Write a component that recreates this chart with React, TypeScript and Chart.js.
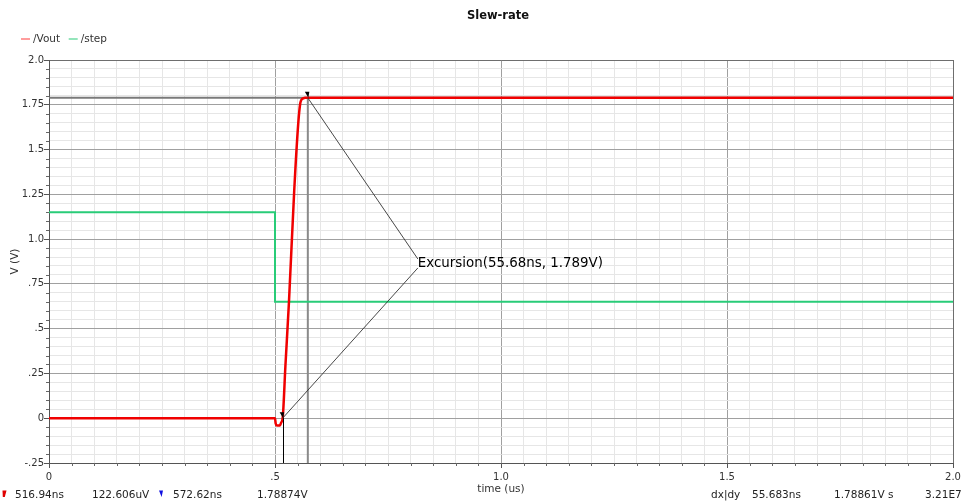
import { useEffect, useRef } from 'react';
import { Chart, registerables } from 'chart.js';

Chart.register(...registerables);

// Transient response: output voltage and the input step (time in us, volts)
const voutTime = [0, 0.5, 0.5015, 0.504, 0.511, 0.5135, 0.516937, 0.523, 0.5307, 0.5425, 0.5514, 0.5558, 0.5585, 0.5625, 0.5665, 2.0];
const voutVolts = [0, 0, -0.03, -0.04, -0.04, -0.025, 0.000122606, 0.29, 0.64, 1.27, 1.645, 1.757, 1.778, 1.786, 1.789, 1.789];

const stepTime = [0, 0.5, 0.5, 2.0];
const stepVolts = [1.15, 1.15, 0.65, 0.65];

const seriesNames = ['/Vout', '/step'];

// Axis ticks
const xMajorTicks = [0, 0.5, 1, 1.5, 2];
const xTickLabels = ['0', '.5', '1.0', '1.5', '2.0'];
const yMajorTicks = [-0.25, 0, 0.25, 0.5, 0.75, 1, 1.25, 1.5, 1.75, 2];
const yTickLabels = ['-.25', '0', '.25', '.5', '.75', '1.0', '1.25', '1.5', '1.75', '2.0'];

// Cursor markers A and B (time in us, volts)
const markerA = { t: 0.516937, v: 0.000122606 };
const markerB = { t: 0.57262, v: 1.78874 };
// Where the excursion label sits, in data units
const excursionLabelAt = { t: 0.816, v: 0.864 };

const FONT = '"DejaVu Sans", sans-serif';

const near = (a: number, b: number) => Math.abs(a - b) < 1e-6;
const isMultiple = (v: number, step: number) => Math.abs(v / step - Math.round(v / step)) < 1e-6;

const labelFor = (v: number, ticks: number[], labels: string[]) => {
  const i = ticks.findIndex((t) => near(t, v));
  return i >= 0 ? labels[i] : '';
};

const fmtExp = (n: number) => {
  const e = Math.floor(Math.log10(n));
  return (n / Math.pow(10, e)).toFixed(2) + 'E' + e;
};

const overlayPlugin = {
  id: 'waveOverlay',
  beforeDatasetsDraw(chart: any) {
    const { ctx, chartArea: a, scales } = chart;
    const x = scales.x;
    const y = scales.y;
    ctx.save();
    // short minor tick marks
    ctx.strokeStyle = '#666';
    ctx.lineWidth = 1;
    ctx.beginPath();
    x.ticks.forEach((t: any) => {
      if (isMultiple(t.value, 0.5)) return;
      const px = Math.round(x.getPixelForValue(t.value)) + 0.5;
      ctx.moveTo(px, a.bottom);
      ctx.lineTo(px, a.bottom + 3);
    });
    y.ticks.forEach((t: any) => {
      if (isMultiple(t.value, 0.25)) return;
      const py = Math.round(y.getPixelForValue(t.value)) + 0.5;
      ctx.moveTo(a.left - 3, py);
      ctx.lineTo(a.left, py);
    });
    ctx.stroke();

    // horizontal cursor at marker B level
    const yB = y.getPixelForValue(markerB.v);
    const xB = x.getPixelForValue(markerB.t);
    ctx.strokeStyle = '#7a7a7a';
    ctx.lineWidth = 2;
    ctx.beginPath();
    ctx.moveTo(a.left, yB);
    ctx.lineTo(a.right, yB);
    ctx.stroke();
    // vertical cursor at marker B
    ctx.strokeStyle = '#8a8a8a';
    ctx.beginPath();
    ctx.moveTo(xB, yB);
    ctx.lineTo(xB, a.bottom);
    ctx.stroke();
    ctx.restore();
  },
  afterDatasetsDraw(chart: any) {
    const { ctx, chartArea: a, scales } = chart;
    const x = scales.x;
    const y = scales.y;
    const xA = x.getPixelForValue(markerA.t);
    const yA = y.getPixelForValue(markerA.v);
    const xB = x.getPixelForValue(markerB.t);
    const yB = y.getPixelForValue(markerB.v);
    ctx.save();
    // vertical cursor at marker A
    ctx.strokeStyle = '#000';
    ctx.lineWidth = 1;
    ctx.beginPath();
    ctx.moveTo(Math.round(xA) + 0.5, yA);
    ctx.lineTo(Math.round(xA) + 0.5, a.bottom);
    ctx.stroke();

    // leader lines to the excursion label
    const lx = x.getPixelForValue(excursionLabelAt.t);
    const ly = y.getPixelForValue(excursionLabelAt.v);
    ctx.strokeStyle = '#333';
    ctx.lineWidth = 0.9;
    ctx.beginPath();
    ctx.moveTo(xB, yB);
    ctx.lineTo(lx, ly - 4.5);
    ctx.moveTo(lx, ly + 4.5);
    ctx.lineTo(xA, yA);
    ctx.stroke();

    // marker triangles
    ctx.fillStyle = '#000';
    [[xA, yA], [xB, yB]].forEach(([px, py]) => {
      ctx.beginPath();
      ctx.moveTo(px - 3, py - 6);
      ctx.lineTo(px + 1.5, py - 6);
      ctx.lineTo(px + 0.5, py);
      ctx.closePath();
      ctx.fill();
    });

    // excursion label
    const dxNs = (markerB.t - markerA.t) * 1000;
    ctx.font = `13.4px ${FONT}`;
    ctx.fillStyle = '#000';
    ctx.textAlign = 'left';
    ctx.textBaseline = 'middle';
    ctx.fillText(`Excursion(${dxNs.toFixed(2)}ns, ${markerB.v.toFixed(3)}V)`, lx, ly);
    ctx.restore();
  },
  afterDraw(chart: any) {
    const { ctx, chartArea: a } = chart;
    ctx.save();
    // title
    ctx.fillStyle = '#111';
    ctx.font = `bold 11.5px ${FONT}`;
    ctx.textAlign = 'center';
    ctx.textBaseline = 'middle';
    ctx.fillText('Slew-rate', (a.left + a.right) / 2 - 3, 16);

    // legend
    ctx.font = `10.5px ${FONT}`;
    ctx.textAlign = 'left';
    let lxPos = 21;
    const legendY = 39;
    chart.data.datasets.forEach((ds: any) => {
      ctx.strokeStyle = ds.legendColor;
      ctx.lineWidth = 2;
      ctx.beginPath();
      ctx.moveTo(lxPos, legendY);
      ctx.lineTo(lxPos + 9, legendY);
      ctx.stroke();
      lxPos += 12;
      ctx.fillStyle = '#333';
      ctx.fillText(ds.label, lxPos, legendY);
      lxPos += ctx.measureText(ds.label).width + 8.6;
    });

    // cursor readouts
    const rowY = 495;
    ctx.fillStyle = '#e00000';
    ctx.beginPath();
    ctx.moveTo(2.5, 490.5);
    ctx.lineTo(6.5, 490.5);
    ctx.lineTo(4.8, 497);
    ctx.lineTo(2.8, 497);
    ctx.closePath();
    ctx.fill();
    ctx.fillStyle = '#1010e0';
    ctx.beginPath();
    ctx.moveTo(159, 490.5);
    ctx.lineTo(163, 490.5);
    ctx.lineTo(161.6, 497);
    ctx.closePath();
    ctx.fill();

    const dx = markerB.t - markerA.t;
    const dy = Math.floor((markerB.v - markerA.v) * 1e5) / 1e5;
    const slope = (markerB.v - markerA.v) / (dx * 1e-6);
    const readouts: [string, number][] = [
      [`${(markerA.t * 1000).toFixed(2)}ns`, 15],
      [`${(markerA.v * 1e6).toFixed(3)}uV`, 92],
      [`${(markerB.t * 1000).toFixed(2)}ns`, 173],
      [`${markerB.v.toFixed(5)}V`, 257],
      ['dx|dy', 711],
      [`${(dx * 1000).toFixed(3)}ns`, 752],
      [`${dy.toFixed(5)}V`, 834],
      ['s', 888],
      [fmtExp(slope), 925],
    ];
    ctx.fillStyle = '#222';
    ctx.font = `10.5px ${FONT}`;
    readouts.forEach(([txt, px]) => ctx.fillText(txt, px, rowY));
    ctx.restore();
  },
};

export default function App() {
  const canvasRef = useRef<HTMLCanvasElement | null>(null);

  useEffect(() => {
    const canvas = canvasRef.current;
    if (!canvas) return;

    const gridColor = (step: number, lo: number, hi: number) => (c: any) => {
      const v = c.tick ? c.tick.value : 0;
      if (near(v, lo) || near(v, hi)) return '#6e6e6e';
      return isMultiple(v, step) ? '#a0a0a0' : '#e6e6e6';
    };
    const tickColor = (step: number) => (c: any) => {
      const v = c.tick ? c.tick.value : 0;
      return isMultiple(v, step) ? '#555' : 'rgba(0,0,0,0)';
    };

    const chart = new Chart(canvas, {
      type: 'line',
      data: {
        datasets: [
          {
            label: seriesNames[0],
            data: voutTime.map((t, i) => ({ x: t, y: voutVolts[i] })),
            borderColor: '#f00000',
            borderWidth: 2.5,
            pointRadius: 0,
            cubicInterpolationMode: 'monotone',
            legendColor: 'rgba(255,60,60,0.5)',
          } as any,
          {
            label: seriesNames[1],
            data: stepTime.map((t, i) => ({ x: t, y: stepVolts[i] })),
            borderColor: '#29cc78',
            borderWidth: 2,
            pointRadius: 0,
            tension: 0,
            legendColor: 'rgba(41,204,120,0.5)',
          } as any,
        ],
      },
      options: {
        animation: false,
        responsive: false,
        events: [],
        layout: { padding: { top: 60, right: 12, bottom: 0, left: 0 } },
        plugins: {
          legend: { display: false },
          title: { display: false },
          tooltip: { enabled: false },
        },
        scales: {
          x: {
            type: 'linear',
            min: 0,
            max: 2,
            afterFit: (s: any) => {
              s.height = 40;
            },
            ticks: {
              stepSize: 0.05,
              autoSkip: false,
              maxRotation: 0,
              padding: 3,
              color: '#333',
              font: { family: FONT, size: 10 },
              callback: (v: any) => labelFor(Number(v), xMajorTicks, xTickLabels),
            },
            grid: {
              color: gridColor(0.5, 0, 2),
              lineWidth: 1,
              tickLength: 5,
              tickColor: tickColor(0.5),
              tickWidth: 1,
            },
            border: { color: '#555', width: 1 },
            title: {
              display: true,
              text: 'time (us)',
              color: '#333',
              font: { family: FONT, size: 10.5 },
              padding: { top: 0, bottom: 7 },
            },
          },
          y: {
            type: 'linear',
            min: -0.25,
            max: 2,
            afterFit: (s: any) => {
              s.width = 49;
            },
            ticks: {
              stepSize: 0.05,
              autoSkip: false,
              padding: 0,
              color: '#333',
              font: { family: FONT, size: 10 },
              callback: (v: any) => labelFor(Number(v), yMajorTicks, yTickLabels),
            },
            grid: {
              color: gridColor(0.25, -0.25, 2),
              lineWidth: 1,
              tickLength: 5,
              tickColor: tickColor(0.25),
              tickWidth: 1,
            },
            border: { color: '#555', width: 1 },
            title: {
              display: true,
              text: 'V (V)',
              color: '#333',
              font: { family: FONT, size: 10.5 },
              padding: { top: 9, bottom: 0 },
            },
          },
        },
      } as any,
      plugins: [overlayPlugin],
    });

    return () => chart.destroy();
  }, []);

  return (
    <div style={{ position: 'absolute', left: 0, top: 0, width: 965, height: 503, background: '#fff' }}>
      <canvas ref={canvasRef} width={965} height={503} />
    </div>
  );
}
